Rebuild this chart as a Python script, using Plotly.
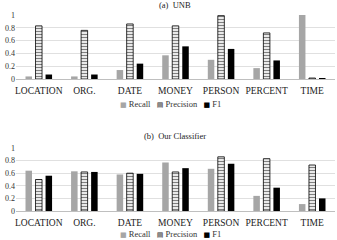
import plotly.graph_objects as go

categories = ["LOCATION", "ORG.", "DATE", "MONEY", "PERSON", "PERCENT", "TIME"]

unb_recall = [0.04, 0.04, 0.14, 0.37, 0.30, 0.17, 1.00]
unb_precision = [0.83, 0.76, 0.86, 0.83, 0.99, 0.72, 0.015]
unb_f1 = [0.07, 0.07, 0.24, 0.51, 0.47, 0.29, 0.015]

ours_recall = [0.64, 0.63, 0.58, 0.77, 0.67, 0.24, 0.11]
ours_precision = [0.50, 0.62, 0.60, 0.62, 0.86, 0.83, 0.73]
ours_f1 = [0.56, 0.62, 0.59, 0.68, 0.75, 0.37, 0.20]

titles = ["(a)  UNB", "(b)  Our Classifier"]
series_names = ["Recall", "Precision", "F1"]
yticks = [0, 0.2, 0.4, 0.6, 0.8, 1]

FONT = "Liberation Serif"
W, H = 337, 240
REC_C, F1_C = "#a6a6a6", "black"

fig = go.Figure()

panels = [
    (unb_recall, unb_precision, unb_f1, "x", "y"),
    (ours_recall, ours_precision, ours_f1, "x2", "y2"),
]

for rec, prec, f1, xa, ya in panels:
    fig.add_trace(go.Bar(x=categories, y=rec, name=series_names[0], xaxis=xa, yaxis=ya,
                         showlegend=False, marker=dict(color=REC_C, line=dict(width=0))))
    fig.add_trace(go.Bar(x=categories, y=prec, name=series_names[1], xaxis=xa, yaxis=ya,
                         showlegend=False,
                         marker=dict(color="white", line=dict(color="black", width=0.8),
                                     pattern=dict(shape="-", fgcolor="black", bgcolor="white",
                                                  size=3, solidity=0.45))))
    fig.add_trace(go.Bar(x=categories, y=f1, name=series_names[2], xaxis=xa, yaxis=ya,
                         showlegend=False, marker=dict(color=F1_C, line=dict(width=0))))

def px_y(p):
    return 1 - p / H

xdom = [16 / W, 335 / W]
axis_common = dict(tickfont=dict(family=FONT, size=9.5, color="#222"), showgrid=False,
                   showline=True, linecolor="#bfbfbf", linewidth=1, ticks="",
                   ticklabelstandoff=3, automargin=False)
yaxis_common = dict(range=[0, 1.0], tickvals=yticks, ticktext=["0", "0.2", "0.4", "0.6", "0.8", "1"],
                    showgrid=True, gridcolor="#e0e0e0", gridwidth=1, zeroline=False,
                    showline=False, tickfont=dict(family=FONT, size=8, color="#333"),
                    ticklen=0, ticks="", automargin=False)

sym = 'font-family:DejaVu Sans;font-size:7px'
legend_text = (
    f'<span style="color:{REC_C};{sym}">■</span> {series_names[0]}   '
    f'<span style="color:#333;{sym}">▤</span> {series_names[1]}   '
    f'<span style="color:{F1_C};{sym}">■</span> {series_names[2]}'
)

ann_font = dict(family=FONT, size=8.5, color="#222")
leg_font = dict(family=FONT, size=8.5, color="#333")
fig.update_layout(
    width=W, height=H,
    margin=dict(l=0, r=0, t=0, b=0, autoexpand=False),
    paper_bgcolor="white", plot_bgcolor="white",
    barmode="group", bargap=0.34, bargroupgap=0.35,
    showlegend=False,
    xaxis=dict(domain=xdom, anchor="y", **axis_common),
    yaxis=dict(domain=[px_y(79), px_y(15)], anchor="x", **yaxis_common),
    xaxis2=dict(domain=xdom, anchor="y2", **axis_common),
    yaxis2=dict(domain=[px_y(211), px_y(148)], anchor="x2", **yaxis_common),
    annotations=[
        dict(text=titles[0], x=175 / W, y=1, yanchor="top", yshift=2, xref="paper", yref="paper",
             showarrow=False, font=ann_font),
        dict(text=titles[1], x=175 / W, y=px_y(136), xref="paper", yref="paper",
             showarrow=False, font=ann_font),
        dict(text=legend_text, x=170 / W, y=px_y(104), xref="paper", yref="paper",
             showarrow=False, font=leg_font),
        dict(text=legend_text, x=170 / W, y=0, yanchor="bottom", yshift=-1, xref="paper", yref="paper",
             showarrow=False, font=leg_font),
    ],
)

fig.write_html("out.html", config={"displayModeBar": False},
               post_script="document.body.style.margin='0';document.body.style.overflow='hidden';")
